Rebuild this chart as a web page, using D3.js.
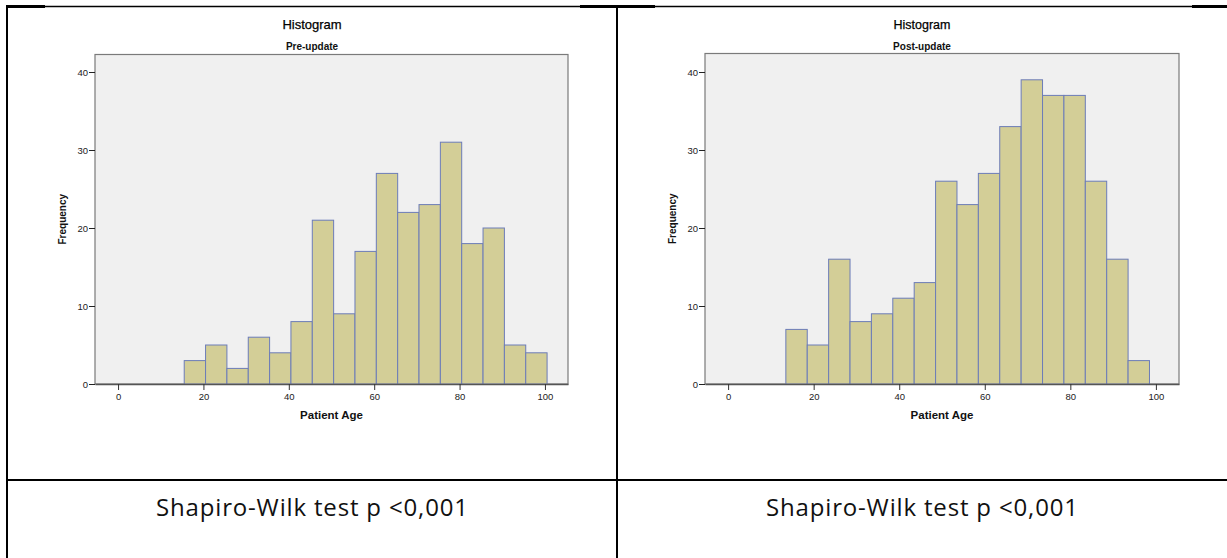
<!DOCTYPE html>
<html>
<head>
<meta charset="utf-8">
<script src="https://cdn.jsdelivr.net/npm/d3@7"></script>
<style>
  body { margin: 0; background: #fff; }
  svg { display: block; }
</style>
</head>
<body>
<svg width="1227" height="558"></svg>
<script>
// frequencies, bins of 5 years
const preCounts = [3, 5, 2, 6, 4, 8, 21, 9, 17, 27, 22, 23, 31, 18, 20, 5, 4];
const postCounts = [7, 5, 16, 8, 9, 11, 13, 26, 23, 27, 33, 39, 37, 37, 26, 16, 3];
const preBinStart = 15.5;
const postBinStart = 13.5;
const binWidth = 5;
const xTicks = [0, 20, 40, 60, 80, 100];
const yTicks = [0, 10, 20, 30, 40];
const subtitles = ["Pre-update", "Post-update"];
const testText = ["Shapiro-Wilk test p <0,001", "Shapiro-Wilk test p <0,001"];

const svg = d3.select("svg");
const font = "'Liberation Sans', Arial, sans-serif";

const panels = [
  { counts: preCounts, start: preBinStart, sub: subtitles[0], cellX: 7, left: 95, right: 568, top: 54.5, titleSize: 13 },
  { counts: postCounts, start: postBinStart, sub: subtitles[1], cellX: 617, left: 705, right: 1179, top: 53.5, titleSize: 12.5 },
];
const cellW = 610;
const bottom = 384;

panels.forEach((p, i) => {
  const g = svg.append("g");
  const x = d3.scaleLinear().domain([-5.4, 105.4]).range([p.left, p.right]);
  const y = d3.scaleLinear().domain([0, 40]).range([bottom, 72]);
  const bins = p.counts.map((c, j) => ({ x0: p.start + j * binWidth, x1: p.start + (j + 1) * binWidth, n: c }));

  g.append("rect")
    .attr("x", p.left).attr("y", p.top)
    .attr("width", p.right - p.left).attr("height", bottom - p.top)
    .attr("fill", "#f0f0f0")
    .attr("stroke", "#7a7a7a").attr("stroke-width", 1.2);

  g.selectAll("rect.bar")
    .data(bins)
    .enter()
    .append("rect")
    .attr("class", "bar")
    .attr("x", (d) => x(d.x0))
    .attr("y", (d) => y(d.n))
    .attr("width", (d) => x(d.x1) - x(d.x0))
    .attr("height", (d) => y(0) - y(d.n))
    .attr("fill", "#d3ce97")
    .attr("stroke", "#6c7cb8")
    .attr("stroke-width", 1);

  // x axis
  const xAxis = g.append("g")
    .attr("transform", `translate(0,${bottom})`)
    .call(d3.axisBottom(x).tickValues(xTicks).tickSize(6).tickPadding(3).tickSizeOuter(0));
  xAxis.select(".domain").attr("stroke", "#555").attr("stroke-width", 1.5);
  xAxis.selectAll(".tick line").attr("stroke", "#333");
  xAxis.selectAll("text").attr("font-family", font).attr("font-size", 9.5).attr("fill", "#222");

  const yAxis = g.append("g")
    .attr("transform", `translate(${p.left},0)`)
    .call(d3.axisLeft(y).tickValues(yTicks).tickSize(6).tickPadding(1).tickSizeOuter(0));
  yAxis.select(".domain").remove();
  yAxis.selectAll(".tick line").attr("stroke", "#222");
  yAxis.selectAll("text").attr("font-family", font).attr("font-size", 9.5).attr("fill", "#222");

  const cx = p.cellX + cellW / 2;
  g.append("text")
    .attr("x", cx).attr("y", 29)
    .attr("text-anchor", "middle")
    .attr("font-family", font).attr("font-size", p.titleSize)
    .attr("fill", "#000")
    .attr("stroke", "#000").attr("stroke-width", 0.25)
    .text("Histogram");
  g.append("text")
    .attr("x", cx).attr("y", 49.5)
    .attr("text-anchor", "middle")
    .attr("font-family", font).attr("font-size", 10).attr("font-weight", "bold")
    .attr("fill", "#111")
    .text(p.sub);
  g.append("text")
    .attr("x", (p.left + p.right) / 2).attr("y", 419)
    .attr("text-anchor", "middle")
    .attr("font-family", font).attr("font-size", 11.5).attr("font-weight", "bold")
    .attr("fill", "#111")
    .text("Patient Age");
  g.append("text")
    .attr("transform", `translate(${p.left - 29},${(p.top + bottom) / 2}) rotate(-90)`)
    .attr("text-anchor", "middle")
    .attr("font-family", font).attr("font-size", 10).attr("font-weight", "bold")
    .attr("fill", "#111")
    .text("Frequency");

  svg.append("text")
    .attr("x", cx).attr("y", 516)
    .attr("text-anchor", "middle")
    .attr("font-family", "'Open Sans', 'Noto Sans', sans-serif")
    .attr("font-size", 24)
    .attr("textLength", 312)
    .attr("lengthAdjust", "spacing")
    .attr("fill", "#111")
    .text(testText[i]);
});

// table grid
const grid = svg.append("g").attr("stroke", "#000");
grid.append("line").attr("x1", 6).attr("x2", 1227).attr("y1", 6.5).attr("y2", 6.5).attr("stroke-width", 1.5);
[[6, 45], [580, 655], [1192, 1227]].forEach(([a, b]) => {
  grid.append("line").attr("x1", a).attr("x2", b).attr("y1", 6.5).attr("y2", 6.5).attr("stroke-width", 3);
});
grid.append("line").attr("x1", 6).attr("x2", 1227).attr("y1", 480).attr("y2", 480).attr("stroke-width", 2);
[7, 617].forEach((vx) => {
  grid.append("line").attr("x1", vx).attr("x2", vx).attr("y1", 5).attr("y2", 558).attr("stroke-width", 2);
});
</script>
</body>
</html>
